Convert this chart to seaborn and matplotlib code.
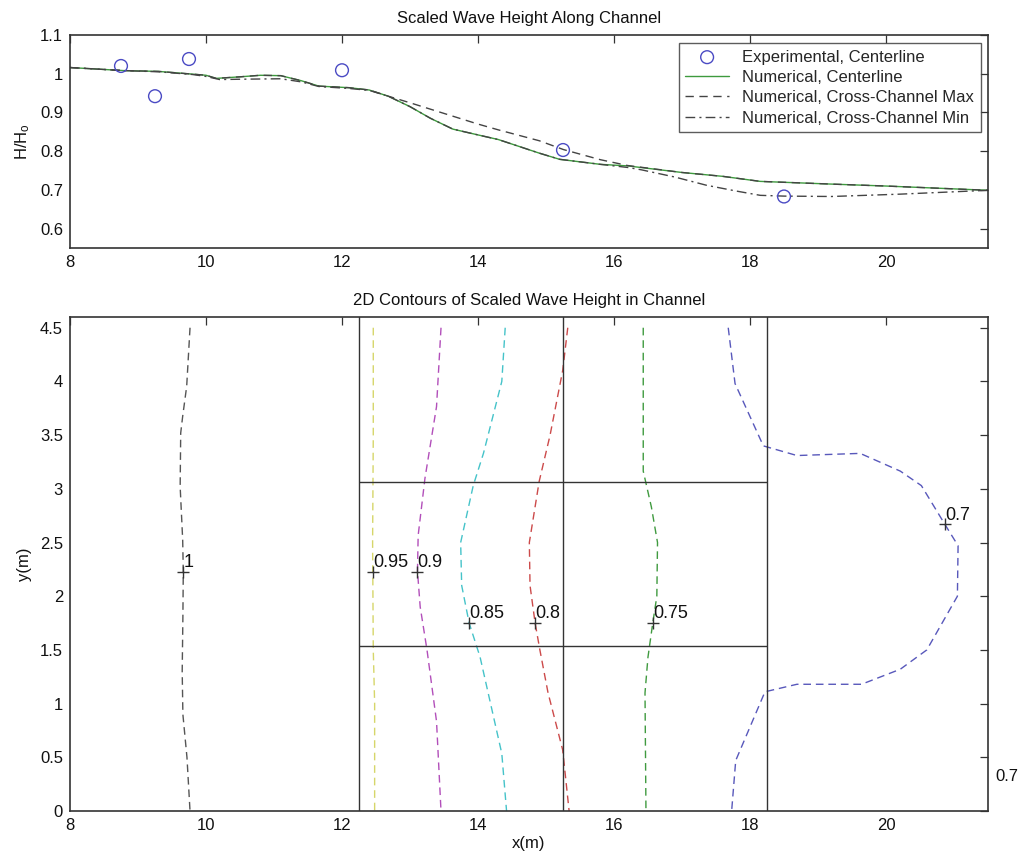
import numpy as np
import pandas as pd
import matplotlib
matplotlib.use("Agg")
import matplotlib.pyplot as plt
import seaborn as sns
from matplotlib.ticker import FuncFormatter, MultipleLocator

# ---------------- data: top panel ----------------
exp_x = [8.75, 9.25, 9.75, 12.0, 15.25, 18.5]
exp_y = [1.020, 0.942, 1.038, 1.009, 0.803, 0.683]

cen_x = [8.0, 8.4, 8.8, 9.3, 9.8, 10.0, 10.15, 10.5, 10.8, 11.1, 11.4, 11.66, 12.1, 12.4, 12.68,
         13.0, 13.3, 13.63, 14.0, 14.3, 14.9, 15.2, 15.8, 16.2, 17.0, 17.6, 18.15, 19.2, 20.0, 21.5]
cen_y = [1.016, 1.012, 1.008, 1.006, 0.999, 0.996, 0.988, 0.992, 0.996, 0.995, 0.982, 0.968, 0.964, 0.958, 0.942,
         0.915, 0.885, 0.857, 0.842, 0.830, 0.795, 0.779, 0.766, 0.762, 0.745, 0.735, 0.722, 0.715, 0.710, 0.699]

max_x = [8.0, 8.4, 8.8, 9.3, 9.8, 10.0, 10.15, 10.5, 10.8, 11.1, 11.4, 11.66, 12.1, 12.4, 12.68,
         13.0, 14.0, 14.3, 14.9, 15.26, 15.8, 16.2, 17.0, 17.6, 18.15, 19.2, 20.0, 21.5]
max_y = [1.016, 1.012, 1.008, 1.006, 0.999, 0.996, 0.988, 0.992, 0.996, 0.995, 0.982, 0.968, 0.964, 0.958, 0.942,
         0.925, 0.870, 0.855, 0.827, 0.804, 0.778, 0.763, 0.745, 0.735, 0.722, 0.715, 0.710, 0.699]

min_x = [8.0, 8.4, 8.8, 9.3, 9.8, 10.0, 10.2, 10.6, 11.1, 11.4, 11.66, 12.1, 12.4, 12.68, 13.0, 13.3,
         13.63, 14.0, 14.3, 14.9, 15.2, 15.8, 16.2, 16.4, 16.9, 17.36, 17.8, 18.15, 18.5, 19.2, 20.2, 21.5]
min_y = [1.016, 1.012, 1.008, 1.005, 0.998, 0.993, 0.985, 0.986, 0.987, 0.979, 0.967, 0.962, 0.957, 0.942, 0.915, 0.885,
         0.857, 0.842, 0.830, 0.795, 0.779, 0.766, 0.758, 0.752, 0.733, 0.712, 0.697, 0.686, 0.684, 0.683, 0.689, 0.699]

# ---------------- data: bottom panel (contour polylines) ----------------
c100_x = [9.765, 9.716, 9.657, 9.628, 9.62, 9.657, 9.666, 9.66, 9.65, 9.66, 9.72, 9.765]
c100_y = [4.5, 3.955, 3.675, 3.52, 3.02, 2.526, 2.23, 1.8, 1.3, 0.9, 0.5, 0.0]
c095_x = [12.46, 12.46, 12.45, 12.46, 12.48, 12.48]
c095_y = [4.5, 3.5, 2.5, 1.5, 1.0, 0.0]
c090_x = [13.456, 13.39, 13.22, 13.12, 13.11, 13.15, 13.25, 13.39, 13.456]
c090_y = [4.5, 3.765, 3.098, 2.566, 2.233, 1.90, 1.50, 0.835, 0.0]
c085_x = [14.40, 14.35, 14.08, 13.93, 13.745, 13.76, 13.87, 14.03, 14.35, 14.42]
c085_y = [4.5, 4.0, 3.33, 3.03, 2.50, 2.10, 1.75, 1.435, 0.535, 0.0]
c080_x = [15.32, 15.245, 15.06, 14.90, 14.755, 14.765, 14.84, 14.91, 15.03, 15.245, 15.34]
c080_y = [4.5, 4.10, 3.50, 3.07, 2.50, 2.10, 1.75, 1.50, 1.10, 0.57, 0.0]
c075_x = [16.43, 16.43, 16.55, 16.64, 16.63, 16.57, 16.50, 16.456, 16.47]
c075_y = [4.5, 3.165, 2.83, 2.50, 2.0, 1.75, 1.435, 1.10, 0.0]
c070_x = [17.68, 17.78, 18.196, 18.69, 19.62, 20.21, 20.52, 20.87, 21.06, 21.05, 20.60, 20.21, 19.64,
          18.69, 18.22, 17.79, 17.73]
c070_y = [4.5, 3.98, 3.40, 3.31, 3.33, 3.165, 3.03, 2.665, 2.47, 2.0, 1.50, 1.32, 1.18,
          1.18, 1.11, 0.47, 0.0]

levels = ["1", "0.95", "0.9", "0.85", "0.8", "0.75", "0.7"]
label_x = [9.666, 12.46, 13.11, 13.87, 14.84, 16.57, 20.87]
label_y = [2.23, 2.23, 2.23, 1.75, 1.75, 1.75, 2.67]

grid_vx = [12.25, 15.25, 18.25]
grid_hy = [1.533, 3.067]

stray_text = "0.7"
stray_xy = (21.78, 0.32)

# ---------------- styling ----------------
sns.set_theme(style="white")
plt.rcParams["font.family"] = ["Liberation Sans", "DejaVu Sans"]
plt.rcParams["mathtext.fontset"] = "custom"
plt.rcParams["mathtext.rm"] = "Liberation Sans"
plt.rcParams["mathtext.it"] = "Liberation Sans"

spine_col = "#333333"
fs = 12

fig = plt.figure(figsize=(10.27, 8.59), dpi=100)
ax1 = fig.add_axes([70 / 1027, 1 - 248 / 859, 918 / 1027, 213 / 859])
ax2 = fig.add_axes([70 / 1027, 1 - 811 / 859, 918 / 1027, 494 / 859])

fmt = FuncFormatter(lambda v, p: f"{v:g}")

def style_axes(ax):
    for s in ax.spines.values():
        s.set_color(spine_col)
        s.set_linewidth(1.2)
    ax.tick_params(direction="in", length=6, width=0.9, color=spine_col,
                   top=True, right=True, labelsize=fs, labelcolor="#111111", pad=5)
    ax.xaxis.set_major_formatter(fmt)
    ax.yaxis.set_major_formatter(fmt)

# ---------------- top panel ----------------
sns.scatterplot(x=exp_x, y=exp_y, ax=ax1, marker="o", s=85, facecolors="none",
                edgecolor="#4b4bc4", linewidth=1.0, label="Experimental, Centerline", zorder=5)
sns.lineplot(x=cen_x, y=cen_y, ax=ax1, color="#3e9a3e", linewidth=1.0, sort=False,
             estimator=None, label="Numerical, Centerline")
sns.lineplot(x=max_x, y=max_y, ax=ax1, color="#444444", linewidth=1.0, sort=False,
             estimator=None, label="Numerical, Cross-Channel Max", dashes=False)
ax1.lines[-1].set_linestyle((0, (6, 4)))
sns.lineplot(x=min_x, y=min_y, ax=ax1, color="#444444", linewidth=1.0, sort=False,
             estimator=None, label="Numerical, Cross-Channel Min", dashes=False)
ax1.lines[-1].set_linestyle((0, (7, 3, 1.5, 3)))

ax1.set_xlim(8, 21.5)
ax1.set_ylim(0.55, 1.1)
ax1.xaxis.set_major_locator(MultipleLocator(2))
ax1.yaxis.set_major_locator(MultipleLocator(0.1))
style_axes(ax1)
ax1.set_title("Scaled Wave Height Along Channel", fontsize=fs, color="#111111", pad=9)
ax1.set_ylabel("H/H$_\\mathrm{o}$", fontsize=fs, color="#111111", labelpad=6)
ax1.set_xlabel("")
leg = ax1.legend(loc="upper right", bbox_to_anchor=(0.992, 0.963), borderaxespad=0,
                 fontsize=fs, frameon=True, fancybox=False, edgecolor=spine_col,
                 handlelength=2.6, labelspacing=0.32, borderpad=0.4, handletextpad=0.8)
leg.get_frame().set_linewidth(1.0)

# ---------------- bottom panel ----------------
contours = [(c100_x, c100_y, "#555555"), (c095_x, c095_y, "#d6d66a"), (c090_x, c090_y, "#b24fba"),
            (c085_x, c085_y, "#45c3c9"), (c080_x, c080_y, "#cc4a4a"), (c075_x, c075_y, "#3f9a3f"),
            (c070_x, c070_y, "#5858bb")]
for cx, cy, col in contours:
    sns.lineplot(x=cx, y=cy, ax=ax2, color=col, linewidth=1.0, sort=False, estimator=None)
    ax2.lines[-1].set_linestyle((0, (5.5, 3.5)))

for vx in grid_vx:
    ax2.axvline(vx, color="#333333", linewidth=1.0)
for hy in grid_hy:
    ax2.hlines(hy, grid_vx[0], grid_vx[-1], color="#333333", linewidth=1.0)

sns.scatterplot(x=label_x, y=label_y, ax=ax2, marker="+", s=80, color="#333333",
                linewidth=1.0, zorder=6)
for lx, ly, txt in zip(label_x, label_y, levels):
    ax2.annotate(txt, (lx, ly), xytext=(0, 0.5), textcoords="offset points",
                 ha="left", va="bottom", fontsize=13, color="#111111")

ax2.text(stray_xy[0], stray_xy[1], stray_text, fontsize=fs, color="#111111",
         ha="center", va="center", clip_on=False)

ax2.set_xlim(8, 21.5)
ax2.set_ylim(0, 4.6)
ax2.xaxis.set_major_locator(MultipleLocator(2))
ax2.yaxis.set_major_locator(MultipleLocator(0.5))
style_axes(ax2)
ax2.set_title("2D Contours of Scaled Wave Height in Channel", fontsize=fs, color="#111111", pad=9)
ax2.set_xlabel("x(m)", fontsize=fs, color="#111111", labelpad=2)
ax2.set_ylabel("y(m)", fontsize=fs, color="#111111", labelpad=6)

fig.savefig("out.png", dpi=100)
